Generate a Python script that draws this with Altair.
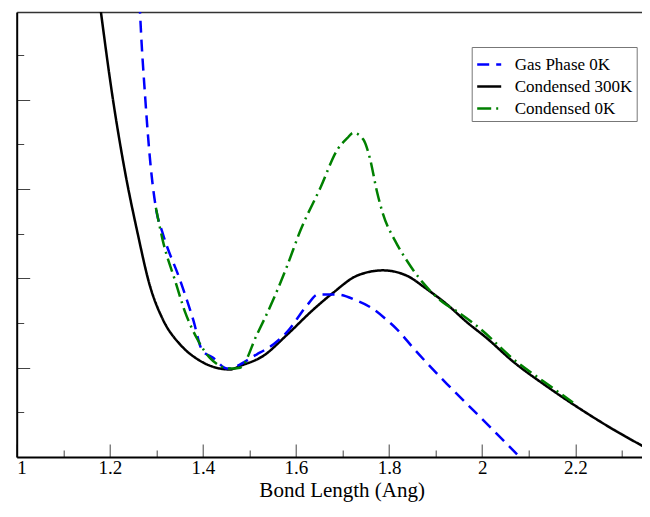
import altair as alt
import pandas as pd

series_names = ["Gas Phase 0K", "Condensed 300K", "Condensed 0K"]
series_colors = ["#0000ff", "#000000", "#008000"]
series_dashes = [[12, 7], [1, 0], [14, 5, 2, 5]]

# Condensed 300K (black solid)
black_x = [1.178, 1.181, 1.206, 1.229, 1.260, 1.286, 1.314, 1.351, 1.387, 1.437, 1.458,
           1.480, 1.529, 1.581, 1.637, 1.680, 1.731, 1.787, 1.838, 1.881, 1.924, 1.967,
           2.010, 2.066, 2.139, 2.210, 2.281, 2.360]
black_y = [5.10, 4.98, 4.03, 3.30, 2.50, 1.92, 1.54, 1.26, 1.10, 0.99, 0.98,
           1.02, 1.13, 1.37, 1.65, 1.84, 2.03, 2.09, 2.03, 1.88, 1.71, 1.51,
           1.33, 1.07, 0.79, 0.54, 0.31, 0.08]

# Gas Phase 0K (blue dashed)
blue_x = [1.264, 1.265, 1.276, 1.287, 1.299, 1.314, 1.351, 1.379, 1.398, 1.422, 1.452,
          1.516, 1.551, 1.581, 1.624, 1.647, 1.688, 1.731, 1.759, 1.796, 1.817, 1.852,
          1.924, 1.995, 2.075]
blue_y = [5.10, 4.98, 4.03, 3.30, 2.79, 2.50, 1.98, 1.54, 1.20, 1.11, 0.99,
          1.15, 1.26, 1.40, 1.70, 1.82, 1.82, 1.75, 1.68, 1.53, 1.43, 1.22,
          0.82, 0.45, 0.03]

# Condensed 0K (green dash-dot)
green_x = [1.299, 1.314, 1.340, 1.362, 1.387, 1.415, 1.458, 1.480, 1.516, 1.551, 1.581,
           1.609, 1.652, 1.690, 1.710, 1.723, 1.744, 1.759, 1.774, 1.787, 1.813, 1.838,
           1.873, 1.916, 1.946, 1.995, 2.066, 2.139, 2.195]
green_y = [2.79, 2.42, 1.98, 1.62, 1.33, 1.11, 0.99, 1.00, 1.37, 1.76, 2.14,
           2.53, 3.01, 3.45, 3.57, 3.63, 3.56, 3.34, 2.97, 2.72, 2.42, 2.20,
           1.95, 1.73, 1.63, 1.44, 1.10, 0.82, 0.61]

x_major = [1.0, 1.2, 1.4, 1.6, 1.8, 2.0, 2.2]
x_minor = [1.1, 1.3, 1.5, 1.7, 1.9, 2.1, 2.3]
y_major = [1, 2, 3, 4]
y_minor = [0.5, 1.5, 2.5, 3.5, 4.5]

rows = []
for name, xs, ys in [("Condensed 300K", black_x, black_y),
                     ("Gas Phase 0K", blue_x, blue_y),
                     ("Condensed 0K", green_x, green_y)]:
    for x, y in zip(xs, ys):
        rows.append({"series": name, "x": x, "y": y})
df = pd.DataFrame(rows)

FONT = "Liberation Serif, DejaVu Serif, serif"
xscale = alt.Scale(domain=[1, 2.3433], nice=False, zero=False)
yscale = alt.Scale(domain=[0, 4.983], nice=False, zero=False)

legend = alt.Legend(title=None, orient="none", legendX=455, legendY=35,
                    symbolType="stroke", symbolSize=576, symbolStrokeWidth=2.5,
                    labelFont=FONT, labelFontSize=17, labelColor="black",
                    labelOffset=12, padding=4, rowPadding=0,
                    strokeColor="#777777", fillColor="white")

tick_color = "#444444"

main = alt.Chart(df).mark_line(clip=True, strokeWidth=2.5, interpolate="monotone").encode(
    x=alt.X("x:Q", scale=xscale, axis=alt.Axis(
        orient="bottom", offset=-13, tickSize=13, domain=False, values=x_major,
        format="~g", labelFont=FONT, labelFontSize=19, labelColor="black",
        labelPadding=1, labelOverlap=False, tickColor=tick_color, tickWidth=1,
        grid=False, title="Bond Length (Ang)", titleFont=FONT, titleFontSize=21,
        titleFontWeight="normal", titleColor="black", titleX=325, titleY=52,
        titleAlign="center", titleBaseline="alphabetic")),
    y=alt.Y("y:Q", scale=yscale, axis=alt.Axis(
        orient="left", offset=-13, tickSize=13, domain=False, values=y_major,
        labels=False, title=None, grid=False, tickColor=tick_color, tickWidth=1)),
    color=alt.Color("series:N", scale=alt.Scale(domain=series_names, range=series_colors),
                    legend=legend),
    strokeDash=alt.StrokeDash("series:N", scale=alt.Scale(domain=series_names, range=series_dashes),
                              legend=legend),
)

minor = alt.Chart(df).mark_point(opacity=0).encode(
    x=alt.X("x:Q", scale=xscale, axis=alt.Axis(
        orient="bottom", offset=-7, tickSize=7, domain=False, values=x_minor,
        labels=False, title=None, grid=False, tickColor=tick_color, tickWidth=1)),
    y=alt.Y("y:Q", scale=yscale, axis=alt.Axis(
        orient="left", offset=-7, tickSize=7, domain=False, values=y_minor,
        labels=False, title=None, grid=False, tickColor=tick_color, tickWidth=1)),
)

frame = alt.Chart(df).mark_point(opacity=0).encode(
    x=alt.X("x:Q", scale=xscale, axis=alt.Axis(
        orient="bottom", domain=True, domainColor="black", domainWidth=2,
        ticks=False, labels=False, title=None, grid=False)),
    y=alt.Y("y:Q", scale=yscale, axis=alt.Axis(
        orient="left", domain=True, domainColor="black", domainWidth=2,
        ticks=False, labels=False, title=None, grid=False)),
)

top = alt.Chart(df).mark_point(opacity=0).encode(
    x=alt.X("x:Q", scale=xscale, axis=alt.Axis(
        orient="top", domain=True, domainColor="#333333", domainWidth=1.5,
        ticks=False, labels=False, title=None, grid=False)),
    y=alt.Y("y:Q", scale=yscale, axis=None),
)

chart = alt.layer(main, minor, frame, top).resolve_axis(
    x="independent", y="independent"
).properties(
    width=625.3, height=445,
    autosize=alt.AutoSizeParams(type="none"),
    padding={"left": 8.7, "top": 4, "right": 0, "bottom": 47},
    background="white",
).configure_view(stroke=None)

chart.save("out.html", embed_options={"renderer": "svg", "actions": False})
